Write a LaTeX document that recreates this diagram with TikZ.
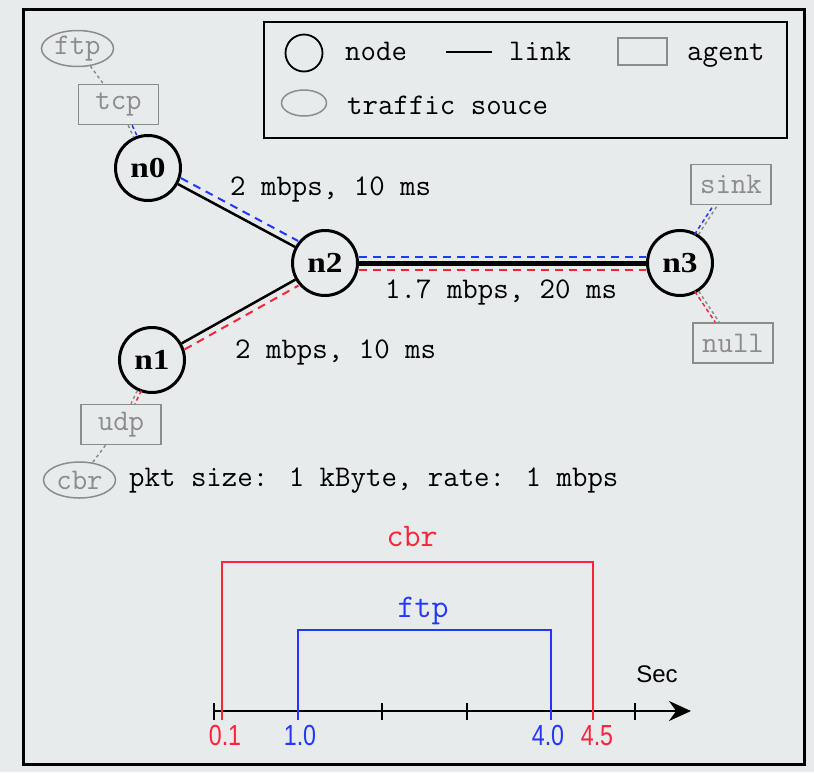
\documentclass[tikz,border=0pt]{standalone}
\usepackage{fontspec}
\newfontfamily\nodefont[FakeStretch=1.15]{Liberation Serif}
\newfontfamily\tickfont[FakeStretch=0.8]{Liberation Sans}
\newfontfamily\secfont{Liberation Sans}
\usetikzlibrary{arrows.meta,shapes.geometric}
\definecolor{bg}{RGB}{231,235,235}
\definecolor{flowred}{RGB}{250,35,60}
\definecolor{flowblue}{RGB}{35,55,250}
\definecolor{agentgray}{RGB}{140,140,140}

\begin{document}
\begin{tikzpicture}[x=1pt,y=-1pt,
    netnode/.style={draw,circle,line width=3pt,minimum size=65pt,inner sep=0pt,font=\nodefont\bfseries\fontsize{29}{30}\selectfont},
    agentbox/.style={draw=agentgray,line width=1.5pt,minimum width=80pt,minimum height=40pt,inner sep=0pt,text=agentgray,font=\ttfamily\fontsize{30}{32}\selectfont},
    trafficsrc/.style={draw=agentgray,ellipse,line width=1.5pt,minimum width=72pt,minimum height=36pt,inner sep=0pt,text=agentgray,font=\ttfamily\fontsize{30}{32}\selectfont},
    txt/.style={anchor=base west,inner sep=0pt,font=\ttfamily\fontsize{30}{32}\selectfont},
    ticklabel/.style={anchor=base,inner sep=0pt,font=\tickfont\fontsize{29}{32}\selectfont},
    link/.style={line width=2.5pt},
    tcpflow/.style={flowblue,line width=2pt,dash pattern=on 8pt off 6pt},
    udpflow/.style={flowred,line width=2pt,dash pattern=on 8pt off 6pt},
    agentlink/.style={agentgray,line width=1.5pt,dash pattern=on 3pt off 3pt},
    flowbar/.style={line width=2pt}
  ]
  \pgfmathsetmacro{\tx}{214}
  \pgfmathsetmacro{\ty}{711}
  \pgfmathsetmacro{\tstep}{84.2}

  \useasboundingbox (0,0) rectangle (814,772);
  \fill[bg] (0,0) rectangle (814,772);
  \draw[line width=3pt] (23,9) rectangle (804,764);

  \draw[line width=2pt] (264,22) rectangle (787,138);
  \node[draw,circle,line width=1.8pt,minimum size=37pt,inner sep=0pt] (lnode) at (304,53) {};
  \node[txt] (lnodetxt) at (345,60) {node};
  \coordinate (llinka) at (446,52);
  \coordinate (llinkb) at (492,52);
  \draw[line width=1.5pt] (llinka) -- (llinkb);
  \node[txt] (llinktxt) at (509,60) {link};
  \node[agentbox,minimum width=49pt,minimum height=27pt] (lagent) at (642.5,51.5) {};
  \node[txt] (lagenttxt) at (687,60) {agent};
  \node[trafficsrc,minimum width=45pt,minimum height=26pt] (lsrc) at (304,103) {};
  \node[txt] (lsrctxt) at (347,114) {traffic souce};

  \node[netnode] (n0) at (148,168) {n0};
  \node[netnode] (n1) at (152,360) {n1};
  \node[netnode] (n2) at (325,263) {n2};
  \node[netnode] (n3) at (680,263) {n3};

  \node[agentbox] (tcp) at (118.5,104.5) {tcp};
  \node[agentbox] (udp) at (121,424.5) {udp};
  \node[agentbox] (sink) at (731,184.5) {sink};
  \node[agentbox] (null) at (733,343) {null};
  \node[trafficsrc] (ftp) at (77.5,48.5) {ftp};
  \node[trafficsrc] (cbr) at (79.5,480) {cbr};

  \draw[link] (n0) -- (n2);
  \draw[link] (n1) -- (n2);
  \draw[link,line width=5pt] (n2) -- (n3);
  \draw[tcpflow,transform canvas={shift={(3,-6)}}] (n0) -- (n2);
  \draw[udpflow,transform canvas={shift={(3,6)}}] (n1) -- (n2);
  \draw[tcpflow,transform canvas={shift={(0,-6.5)}}] (n2) -- (n3);
  \draw[udpflow,transform canvas={shift={(0,7)}}] (n2) -- (n3);

  \draw[agentlink] (ftp) -- (tcp);
  \draw[agentlink] (tcp) -- (n0);
  \draw[tcpflow,line width=1.5pt,dash pattern=on 4pt off 3pt,transform canvas={shift={(4,0)}}] (tcp) -- (n0);
  \draw[agentlink] (n1) -- (udp);
  \draw[udpflow,line width=1.5pt,dash pattern=on 4pt off 3pt,transform canvas={shift={(4,0)}}] (n1) -- (udp);
  \draw[agentlink] (udp) -- (cbr);
  \draw[agentlink] (n3) -- (sink);
  \draw[tcpflow,line width=1.5pt,dash pattern=on 4pt off 3pt,transform canvas={shift={(-4,0)}}] (n3) -- (sink);
  \draw[agentlink] (n3) -- (null);
  \draw[udpflow,line width=1.5pt,dash pattern=on 4pt off 3pt,transform canvas={shift={(-4,0)}}] (n3) -- (null);

  \node[txt] (l02) at (230,195) {2 mbps, 10 ms};
  \node[txt] (l12) at (235,358) {2 mbps, 10 ms};
  \node[txt] (l23) at (385,298) {1.7 mbps, 20 ms};
  \node[txt] (cbrinfo) at (129,486) {pkt size: 1 kByte, rate: 1 mbps};

  \coordinate (t0) at (\tx,\ty);
  \coordinate (tend) at (691,\ty);
  \draw[line width=2pt,-{Stealth[length=22pt,width=20pt]}] (t0) -- (tend);
  \foreach \k in {0,...,5}
    \draw[line width=2pt] ({\tx+\k*\tstep},703) -- ++(0,17);
  \draw[flowbar,flowred] ({\tx+0.1*\tstep},720) |- ({\tx+4.5*\tstep},562) -- ({\tx+4.5*\tstep},720);
  \draw[flowbar,flowblue] ({\tx+1.0*\tstep},720) |- ({\tx+4.0*\tstep},630) -- ({\tx+4.0*\tstep},720);

  \node[anchor=base,inner sep=0pt,text=flowred,font=\ttfamily\fontsize{33}{35}\selectfont] (cbrbar) at (412,546) {cbr};
  \node[anchor=base,inner sep=0pt,text=flowblue,font=\ttfamily\fontsize{33}{35}\selectfont] (ftpbar) at (423,617) {ftp};
  \node[anchor=base,inner sep=0pt,font=\secfont\fontsize{24}{26}\selectfont] (secl) at (657,682) {Sec};
  \node[ticklabel,text=flowred] (t01) at (225,745) {0.1};
  \node[ticklabel,text=flowblue] (t10) at (300,745) {1.0};
  \node[ticklabel,text=flowblue] (t40) at (548,745) {4.0};
  \node[ticklabel,text=flowred] (t45) at (597,745) {4.5};
\end{tikzpicture}
\end{document}
